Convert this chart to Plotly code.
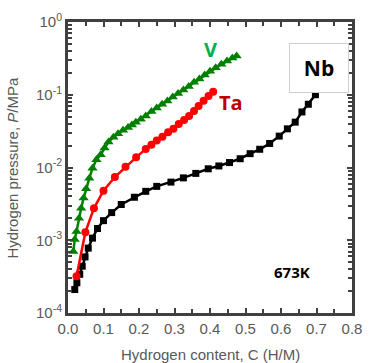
import plotly.graph_objects as go

# Nb (black squares)
nb_c = [0.019, 0.025, 0.033, 0.040, 0.048, 0.057, 0.069, 0.083, 0.100, 0.123, 0.150, 0.187,
        0.219, 0.250, 0.290, 0.325, 0.360, 0.395, 0.425, 0.455, 0.485, 0.513, 0.540, 0.568,
        0.595, 0.618, 0.640, 0.659, 0.677, 0.697]
nb_p = [2.1e-4, 2.6e-4, 3.4e-4, 4.4e-4, 5.9e-4, 7.8e-4, 1.07e-3, 1.45e-3, 1.86e-3, 2.4e-3, 3.1e-3, 3.9e-3,
        4.7e-3, 5.5e-3, 6.3e-3, 7.2e-3, 8.3e-3, 9.6e-3, 1.05e-2, 1.17e-2, 1.32e-2, 1.55e-2, 1.78e-2, 2.14e-2,
        2.7e-2, 3.4e-2, 4.2e-2, 5.8e-2, 7.4e-2, 1.0e-1]

# Ta (red circles)
ta_c = [0.024, 0.049, 0.073, 0.100, 0.132, 0.162, 0.192, 0.219, 0.235, 0.250, 0.266, 0.282,
        0.297, 0.312, 0.327, 0.341, 0.355, 0.368, 0.382, 0.396, 0.409]
ta_p = [3.2e-4, 1.29e-3, 2.75e-3, 4.8e-3, 7.4e-3, 1.02e-2, 1.38e-2, 1.8e-2, 2.05e-2, 2.35e-2, 2.65e-2, 3.05e-2,
        3.4e-2, 3.95e-2, 4.5e-2, 5.1e-2, 6.0e-2, 7.0e-2, 8.3e-2, 9.6e-2, 1.1e-1]

# V (green triangles)
v_c = [0.015, 0.019, 0.024, 0.031, 0.037, 0.044, 0.051, 0.060, 0.069, 0.080, 0.092, 0.103,
       0.114, 0.128, 0.141, 0.155, 0.169, 0.180, 0.191, 0.205, 0.219, 0.235, 0.250, 0.265,
       0.280, 0.295, 0.310, 0.325, 0.340, 0.355, 0.370, 0.385, 0.400, 0.416, 0.432, 0.448,
       0.463, 0.475]
v_p = [7.0e-4, 1.02e-3, 1.32e-3, 2.0e-3, 2.75e-3, 3.8e-3, 5.1e-3, 7.1e-3, 9.8e-3, 1.28e-2, 1.5e-2, 1.85e-2,
       2.25e-2, 2.6e-2, 2.9e-2, 3.25e-2, 3.55e-2, 3.85e-2, 4.2e-2, 4.6e-2, 5.1e-2, 5.9e-2, 6.6e-2, 7.4e-2,
       8.2e-2, 9.3e-2, 1.04e-1, 1.16e-1, 1.3e-1, 1.48e-1, 1.65e-1, 1.87e-1, 2.1e-1, 2.35e-1, 2.62e-1, 2.9e-1,
       3.2e-1, 3.4e-1]

x_ticks = [0.0, 0.1, 0.2, 0.3, 0.4, 0.5, 0.6, 0.7, 0.8]
x_ticktext = ["0.0", "0.1", "0.2", "0.3", "0.4", "0.5", "0.6", "0.7", "0.8"]
y_ticks = [1e-4, 1e-3, 1e-2, 1e-1, 1e0]
y_ticktext = ["10<sup>-4</sup>", "10<sup>-3</sup>", "10<sup>-2</sup>", "10<sup>-1</sup>", "10<sup>0</sup>"]

y_minor = [m * 10 ** e for e in range(-4, 0) for m in range(2, 10)]
x_minor = [0.05 + 0.1 * i for i in range(8)]

fig = go.Figure()
fig.add_trace(go.Scatter(x=nb_c, y=nb_p, mode="lines+markers",
                         line=dict(color="black", width=2.5),
                         marker=dict(symbol="square", size=7, color="black")))
fig.add_trace(go.Scatter(x=ta_c, y=ta_p, mode="lines+markers",
                         line=dict(color="#ff0000", width=2.5),
                         marker=dict(symbol="circle", size=8, color="#ff0000")))
fig.add_trace(go.Scatter(x=v_c, y=v_p, mode="lines+markers",
                         line=dict(color="#008000", width=2.5),
                         marker=dict(symbol="triangle-up", size=9, color="#008000")))

axis_common = dict(showline=True, linecolor="#404040", linewidth=3, mirror="ticks",
                   ticks="inside", tickcolor="#404040", tickwidth=2, ticklen=5,
                   showgrid=False, zeroline=False,
                   tickfont=dict(family="Liberation Sans, Arial", size=15, color="#595959"))

fig.update_xaxes(range=[0, 0.8], tickmode="array", tickvals=x_ticks, ticktext=x_ticktext,
                 minor=dict(tickmode="array", tickvals=x_minor, ticks="inside", ticklen=4,
                            tickwidth=2, tickcolor="#404040"),
                 **axis_common)
fig.update_yaxes(type="log", range=[-4, 0], tickmode="array", tickvals=y_ticks, ticktext=y_ticktext,
                 minor=dict(tickmode="array", tickvals=y_minor, ticks="inside", ticklen=4,
                            tickwidth=2, tickcolor="#404040"),
                 **axis_common)

fig.add_annotation(x=0.5, y=-0.15, xref="paper", yref="paper", yshift=-8, showarrow=False,
                   text="Hydrogen content, C (H/M)",
                   font=dict(family="Liberation Sans, Arial", size=15, color="#595959"))
fig.add_annotation(x=-0.195, y=0.5, xref="paper", yref="paper", xshift=-11, showarrow=False, textangle=-90,
                   text="Hydrogen pressure, <i>P</i>/MPa",
                   font=dict(family="Liberation Sans, Arial", size=15, color="#595959"))
# annotation y values are log10(P) on the log axis
fig.add_annotation(x=0.40, y=-0.38, xref="x", yref="y", showarrow=False, text="<b>V</b>",
                   font=dict(family="Open Sans, Arial", size=20, color="#00b050"))
fig.add_annotation(x=0.459, y=-1.10, xref="x", yref="y", showarrow=False, text="<b>Ta</b>",
                   font=dict(family="Open Sans, Arial", size=20, color="#c00000"))
fig.add_annotation(x=0.706, y=-0.63, xref="x", yref="y", showarrow=False, text="<b>Nb</b>",
                   font=dict(family="Open Sans, Arial", size=21, color="black"),
                   bordercolor="#d0d0d0", borderwidth=1, bgcolor="white",
                   width=56, height=46)
fig.add_annotation(x=0.63, y=-3.44, xref="x", yref="y", showarrow=False, text="<b>673K</b>",
                   font=dict(family="Open Sans, Arial", size=15, color="black"))

fig.update_layout(width=373, height=363, margin=dict(l=68, r=11, t=19, b=50),
                  plot_bgcolor="white", paper_bgcolor="white", showlegend=False)

fig.write_html("out.html")
